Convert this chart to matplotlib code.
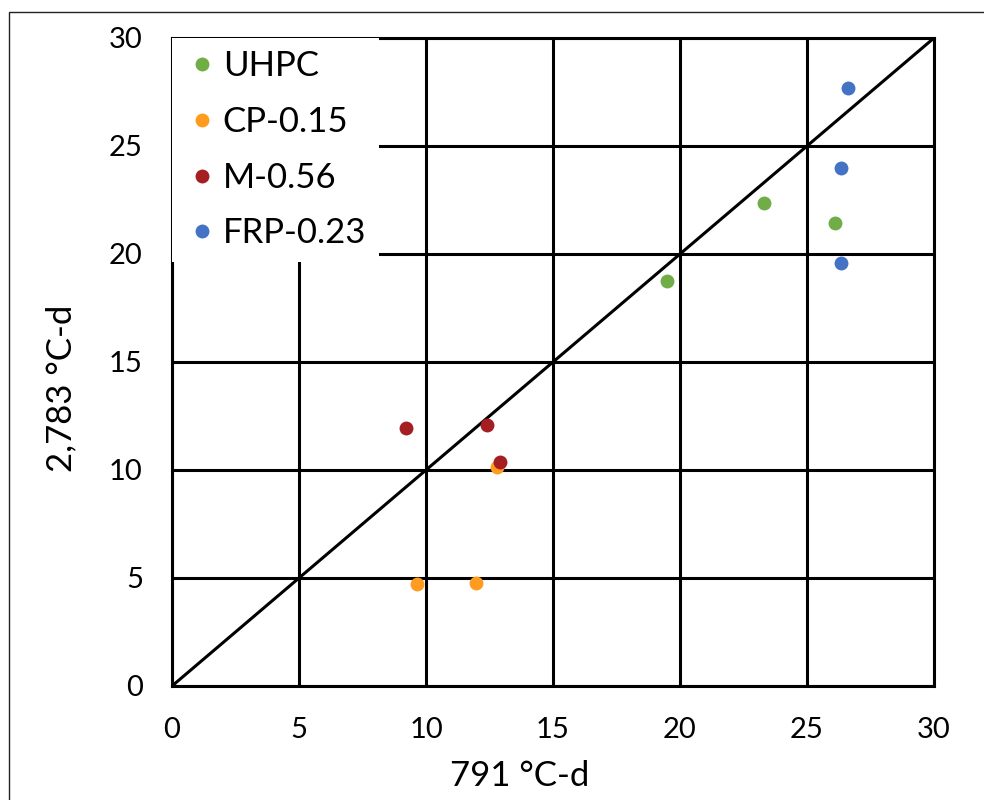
import matplotlib
matplotlib.use('Agg')
import matplotlib.pyplot as plt
from matplotlib.patches import Rectangle

plt.rcParams['font.family'] = ['Lato', 'DejaVu Sans']

# degree-days at 791 (x) and 2,783 (y) for each mix
series_names = ['UHPC', 'CP-0.15', 'M-0.56', 'FRP-0.23']
series_colors = ['#70AD47', '#FF9B1E', '#A41E22', '#4472C4']
uhpc_x = [19.5, 23.3, 26.1]
uhpc_y = [18.75, 22.35, 21.45]
cp_x = [9.65, 11.95, 12.8]
cp_y = [4.7, 4.75, 10.15]
m_x = [9.2, 12.4, 12.9]
m_y = [11.95, 12.1, 10.35]
frp_x = [26.6, 26.35, 26.35]
frp_y = [27.7, 24.0, 19.6]
ticks = [0, 5, 10, 15, 20, 25, 30]

fig = plt.figure(figsize=(9.84, 8), dpi=100)
ax = fig.add_axes([172/984, 1 - 686/800, (934-172)/984, (686-38)/800])

# outer frame around the figure
fig.patches.append(Rectangle((9/984, -0.1), 1.2, 1 - 12/800 + 0.1,
                             transform=fig.transFigure, fill=False,
                             edgecolor='#222222', linewidth=1.0))

ax.plot([0, 30], [0, 30], color='black', lw=2.2, zorder=2)

xs = [uhpc_x, cp_x, m_x, frp_x]
ys = [uhpc_y, cp_y, m_y, frp_y]
for name, c, x, y in zip(series_names, series_colors, xs, ys):
    ax.plot(x, y, 'o', color=c, markersize=10, markeredgewidth=0,
            label=name, zorder=3)

ax.set_xlim(0, 30)
ax.set_ylim(0, 30)
ax.set_xticks(ticks)
ax.set_yticks(ticks)
ax.grid(True, color='black', lw=2.2)
ax.set_axisbelow(True)
for s in ax.spines.values():
    s.set_linewidth(2.2)
ax.tick_params(length=0, labelsize=21)
ax.tick_params(axis='x', pad=22)
ax.tick_params(axis='y', pad=21)

ax.set_xlabel('791 °C-d', fontsize=25)
ax.set_ylabel('2,783 °C-d', fontsize=25)
ax.xaxis.set_label_coords((520-172)/762, -(760-686)/648)
ax.yaxis.set_label_coords(-(172-77)/762, (686-388)/648)

leg = ax.legend(loc='upper left', fontsize=25, frameon=True, fancybox=False,
                borderaxespad=0, handletextpad=0.1, handlelength=1.0,
                labelspacing=0.68, borderpad=0.36, markerscale=1.0)
leg.get_frame().set_facecolor('white')
leg.get_frame().set_edgecolor('none')
leg.get_frame().set_alpha(1)
leg.set_zorder(5)

fig.savefig('out.png', dpi=100, facecolor='white')
